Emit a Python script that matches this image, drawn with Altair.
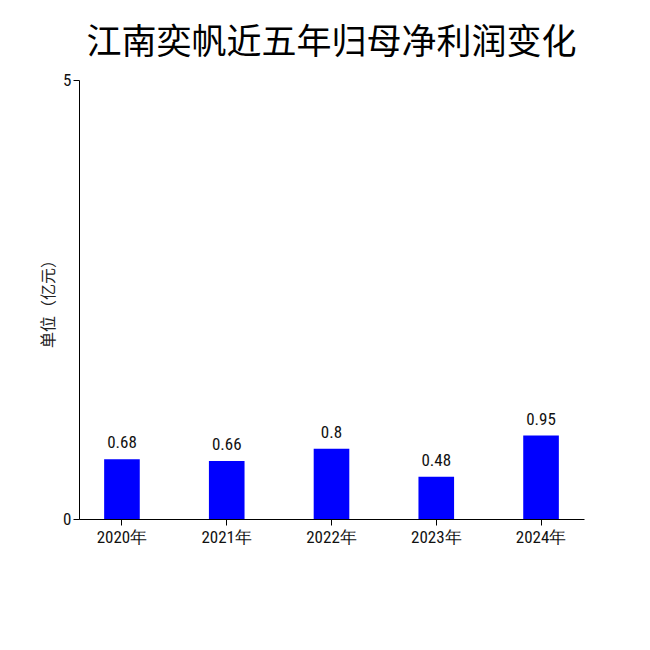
import altair as alt
import pandas as pd

years = ["2020年", "2021年", "2022年", "2023年", "2024年"]
values = [0.68, 0.66, 0.8, 0.48, 0.95]
labels = ["0.68", "0.66", "0.8", "0.48", "0.95"]

df = pd.DataFrame({"year": years, "value": values, "label": labels})

font = "Liberation Sans Narrow, Roboto Condensed, Liberation Sans, sans-serif"

base = alt.Chart(df).encode(
    x=alt.X("year:N", sort=years,
            scale=alt.Scale(paddingInner=0.66, paddingOuter=0.24),
            axis=alt.Axis(title=None, labelAngle=0, labelFontSize=17, labelFont=font,
                          labelFontWeight="normal",
                          labelColor="#111111", domainColor="#000000", tickColor="#000000",
                          tickSize=6, labelPadding=4, grid=False)),
    y=alt.Y("value:Q", scale=alt.Scale(domain=[0, 5]),
            axis=alt.Axis(title="单位（亿元）", values=[0, 5], labelFontSize=17, labelFont=font,
                          labelColor="#111111", titleFontSize=16, titleFontWeight="normal",
                          titleColor="#222222", titleFont="Noto Sans CJK SC", titlePadding=6,
                          domainColor="#000000", tickColor="#000000", tickSize=6, grid=False)),
)

bars = base.mark_bar(color="#0000FF")
text = base.mark_text(dy=-16, fontSize=17, font=font, color="#111111").encode(text="label:N")

chart = (bars + text).properties(
    width=505, height=439,
    title=alt.TitleParams("江南奕帆近五年归母净利润变化", fontSize=35, font="Noto Sans CJK SC",
                          fontWeight="normal", color="#000000", anchor="middle", offset=10),
    autosize=alt.AutoSizeParams(type="none"),
    padding={"left": 71, "top": 72, "right": 50, "bottom": 110},
).configure_view(stroke=None)

chart.save("out.html", embed_options={"renderer": "svg", "actions": False})
